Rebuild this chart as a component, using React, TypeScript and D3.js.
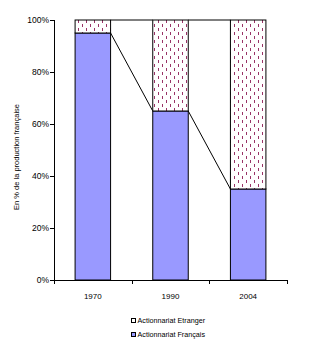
import React from "react";
import * as d3 from "d3";

const categories = ["1970", "1990", "2004"];
const francais = [95, 65, 35];
const etranger = [5, 35, 65];
const yTicks = [0, 20, 40, 60, 80, 100];
const seriesNames = ["Actionnariat Etranger", "Actionnariat Français"];
const yTitle = "En % de la production française";

const W = 321, H = 353;
const left = 54, right = 287, top = 20, bottom = 280;
const FONT = "'Liberation Sans', Arial, sans-serif";
const BLUE = "#9999FF";
const MAROON = "#993366";

export default function App() {
  const x = d3.scaleBand<string>().domain(categories).range([left, right]).paddingInner(0.543).paddingOuter(0.2715);
  const y = d3.scaleLinear().domain([0, 100]).range([bottom, top]);
  const bw = x.bandwidth();
  const stacked = categories.map((c, i) => ({ c, f: francais[i], e: etranger[i] }));
  const catStep = (right - left) / categories.length;

  return (
    <svg width={W} height={H} style={{ position: "absolute", left: 0, top: 0, background: "#fff" }}>
      <defs>
        <pattern id="dash" width={8} height={8} patternUnits="userSpaceOnUse">
          <rect width={8} height={8} fill="#fff" />
          <rect x={2} y={0} width={1} height={3} fill={MAROON} />
          <rect x={6} y={4} width={1} height={3} fill={MAROON} />
        </pattern>
      </defs>
      {/* series lines */}
      {stacked.slice(0, -1).map((d, i) => {
        const n = stacked[i + 1];
        return (
          <g key={"sl" + i} stroke="#000" strokeWidth={1}>
            <line x1={x(d.c)! + bw} y1={y(d.f)} x2={x(n.c)!} y2={y(n.f)} />
            <line x1={x(d.c)! + bw} y1={y(d.f + d.e)} x2={x(n.c)!} y2={y(n.f + n.e)} />
          </g>
        );
      })}
      {stacked.map((d) => (
        <g key={d.c}>
          <rect x={x(d.c)!} y={y(d.f)} width={bw} height={y(0) - y(d.f)} fill={BLUE} stroke="#000" strokeWidth={1} />
          <rect x={x(d.c)!} y={y(d.f + d.e)} width={bw} height={y(d.f) - y(d.f + d.e)} fill="url(#dash)" stroke="#000" strokeWidth={1} />
        </g>
      ))}
      {/* y axis */}
      <line x1={left + 0.5} y1={top} x2={left + 0.5} y2={bottom} stroke="#000" />
      {yTicks.map((t) => (
        <g key={t}>
          <line x1={left - 4} x2={left} y1={Math.round(y(t)) + 0.5} y2={Math.round(y(t)) + 0.5} stroke="#000" />
          <text x={left - 5} y={y(t)} dy="0.35em" textAnchor="end" fontSize={8.5} fontFamily={FONT}>{t}%</text>
        </g>
      ))}
      {/* x axis */}
      <line x1={left} y1={bottom + 0.5} x2={right} y2={bottom + 0.5} stroke="#000" />
      {d3.range(categories.length + 1).map((i) => (
        <line key={i} x1={Math.round(left + i * catStep) + 0.5} x2={Math.round(left + i * catStep) + 0.5} y1={bottom} y2={bottom + 4} stroke="#000" />
      ))}
      {categories.map((c) => (
        <text key={c} x={x(c)! + bw / 2} y={299} textAnchor="middle" fontSize={8} fontFamily={FONT}>{c}</text>
      ))}
      <text transform={`translate(19,157) rotate(-90)`} textAnchor="middle" fontSize={7} fontFamily={FONT} textLength={106} lengthAdjust="spacingAndGlyphs">{yTitle}</text>
      {/* legend */}
      {seriesNames.map((s, i) => (
        <g key={s} transform={`translate(131,${318 + i * 14})`}>
          <rect x={0.5} y={0.5} width={4} height={4} fill={i === 0 ? "#fff" : BLUE} stroke="#000" strokeWidth={1} />
          <text x={6.5} y={5} fontSize={7.2} fontFamily={FONT}>{s}</text>
        </g>
      ))}
    </svg>
  );
}
